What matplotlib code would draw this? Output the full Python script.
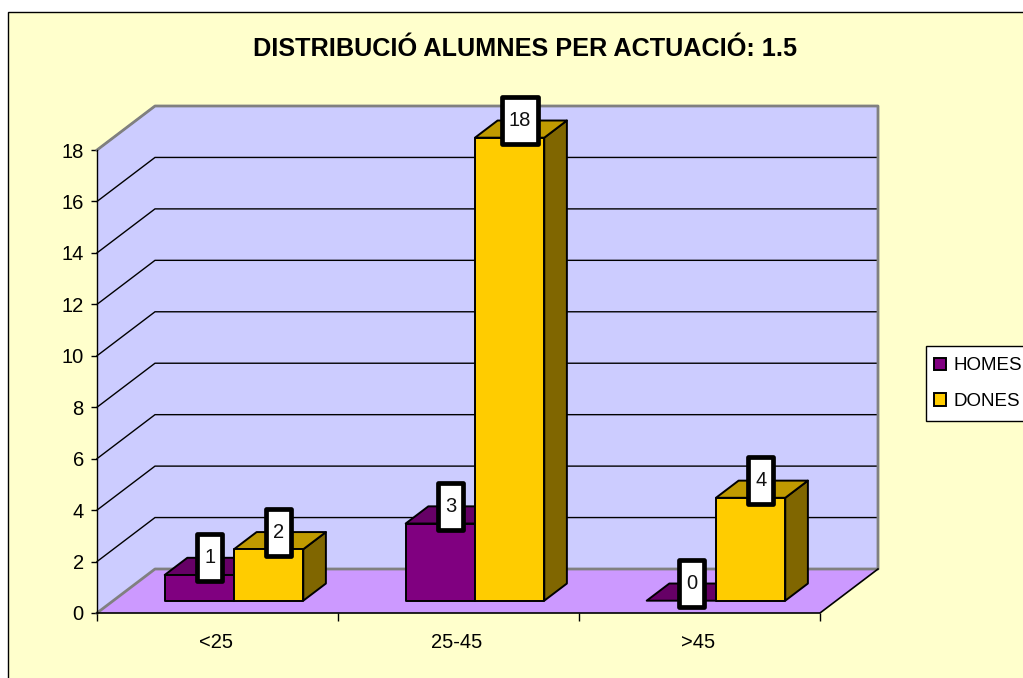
import matplotlib
matplotlib.use("Agg")
import matplotlib.pyplot as plt
from matplotlib.patches import Polygon, Rectangle, Patch

plt.rcParams['font.family'] = ['Liberation Sans', 'DejaVu Sans']

# ---- data ----
title = "DISTRIBUCIÓ ALUMNES PER ACTUACIÓ: 1.5"
categories = ["<25", "25-45", ">45"]
homes = [1, 3, 0]
dones = [2, 18, 4]
series_names = ["HOMES", "DONES"]
yticks = [0, 2, 4, 6, 8, 10, 12, 14, 16, 18]

# ---- style ----
BG = "#FFFFCC"; WALL = "#CCCCFF"; FLOOR = "#CC99FF"; GREY = "#808080"
COL = ["#800080", "#FFCC00"]
TOP = ["#660066", "#C09A00"]
SIDE = ["#4D004D", "#806600"]

W, H = 1023, 678
fig = plt.figure(figsize=(W / 100, H / 100), dpi=100, facecolor="white")
fig.add_artist(Rectangle((8 / W, 1 - 700 / H), 1100 / W, 688 / H, transform=fig.transFigure,
                         facecolor=BG, edgecolor="black", lw=1, zorder=-5))

# front plane of the 3D box
L, R, B, T = 97, 820, 613, 150
ax = fig.add_axes([L / W, 1 - B / H, (R - L) / W, (B - T) / H])
ax.set_xlim(0, 3)
ax.set_ylim(0, 18)
ax.patch.set_alpha(0)
for s in ax.spines.values():
    s.set_visible(False)

PXX = 3 / (R - L)
PXY = 18 / (B - T)
DX, DY = 58 * PXX, 44 * PXY     # full depth of the box, data units


def P(x, y, d=0.0):
    return (x + d * DX, y + d * DY)


def poly(pts, fc, ec="none", lw=1.0, z=1):
    ax.add_patch(Polygon(pts, closed=True, facecolor=fc, edgecolor=ec, lw=lw, zorder=z,
                         clip_on=False, joinstyle="round"))


# walls and floor
poly([P(0, 0), P(0, 0, 1), P(0, 18, 1), P(0, 18)], WALL, z=1)
poly([P(0, 0, 1), P(3, 0, 1), P(3, 18, 1), P(0, 18, 1)], WALL, z=1)
poly([P(0, 0), P(3, 0), P(3, 0, 1), P(0, 0, 1)], FLOOR, z=1)

# gridlines
for v in yticks[1:]:
    ax.plot(*zip(P(0, v), P(0, v, 1), P(3, v, 1)), color="black", lw=1, zorder=2,
            clip_on=False, solid_joinstyle="miter")
# wall edges
ax.plot(*zip(P(0, 18), P(0, 18, 1), P(3, 18, 1), P(3, 0, 1), P(0, 0, 1), P(0, 0)),
        color=GREY, lw=2, zorder=3, clip_on=False)
ax.plot(*zip(P(0, 0), P(0, 18)), color="black", lw=1, zorder=4, clip_on=False)
ax.plot(*zip(P(0, 0), P(3, 0), P(3, 0, 1)), color="black", lw=1.2, zorder=4, clip_on=False)

# bars
D0, D1 = 0.28, 0.67
GAP, BW = 0.2135, 0.2875
labels = []
for i in range(len(categories)):
    for j, vals in enumerate((homes, dones)):
        v = vals[i]
        x0 = i + GAP + j * BW
        x1 = x0 + BW
        z = 5 + i + j * 0.1
        poly([P(x1, 0, D0), P(x1, 0, D1), P(x1, v, D1), P(x1, v, D0)], SIDE[j], "black", 1.4, z)
        poly([P(x0, v, D0), P(x1, v, D0), P(x1, v, D1), P(x0, v, D1)], TOP[j], "black", 1.4, z)
        if v > 0:
            poly([P(x0, 0, D0), P(x1, 0, D0), P(x1, v, D0), P(x0, v, D0)], COL[j], "black", 1.4, z)
        labels.append((x0, v))

# value labels
for x0, v in labels:
    fx, fy = P(x0, v, D0)
    cx = fx + 45 * PXX
    cy = fy + 17 * PXY
    w = (36 if v >= 10 else 25) * PXX
    h = 47 * PXY
    ax.add_patch(Rectangle((cx - w / 2, cy - h / 2), w, h, facecolor="white", edgecolor="black",
                           lw=3.4, zorder=20, clip_on=False, joinstyle="round"))
    ax.text(cx, cy, str(v), ha="center", va="center", fontsize=14.5, color="#111111", zorder=21)

# axes ticks
ax.set_yticks(yticks)
ax.set_xticks(range(4))
ax.set_xticklabels([""] * 4)
ax.tick_params(axis="y", length=4.5, width=1, labelsize=14.5, pad=5)
ax.tick_params(axis="x", length=5.5, width=1, color="black")
for i, c in enumerate(categories):
    ax.annotate(c, xy=(i + 0.5, 0), xycoords="data", xytext=(-1, -29 * 0.72),
                textcoords="offset points", ha="center", va="center", fontsize=14.5)

fig.text(525 / W, 1 - 49 / H, title, ha="center", va="center", fontsize=18.2, fontweight="bold")

# legend: frame runs off the right edge of the figure, as in the reference
fig.add_artist(Rectangle((926 / W, 1 - 421 / H), 150 / W, 75 / H, transform=fig.transFigure,
                         facecolor="white", edgecolor="black", lw=1, zorder=1))
handles = [Patch(facecolor=c, edgecolor="black", lw=1.4) for c in COL]
leg = fig.legend(handles, series_names, loc="upper left", bbox_to_anchor=(933.5 / W, 1 - 357.5 / H),
                 fontsize=13.5, frameon=False, handlelength=0.66, handleheight=0.66,
                 handletextpad=0.42, labelspacing=1.0, borderpad=0, borderaxespad=0)

fig.savefig("out.png", dpi=100, facecolor="white")
